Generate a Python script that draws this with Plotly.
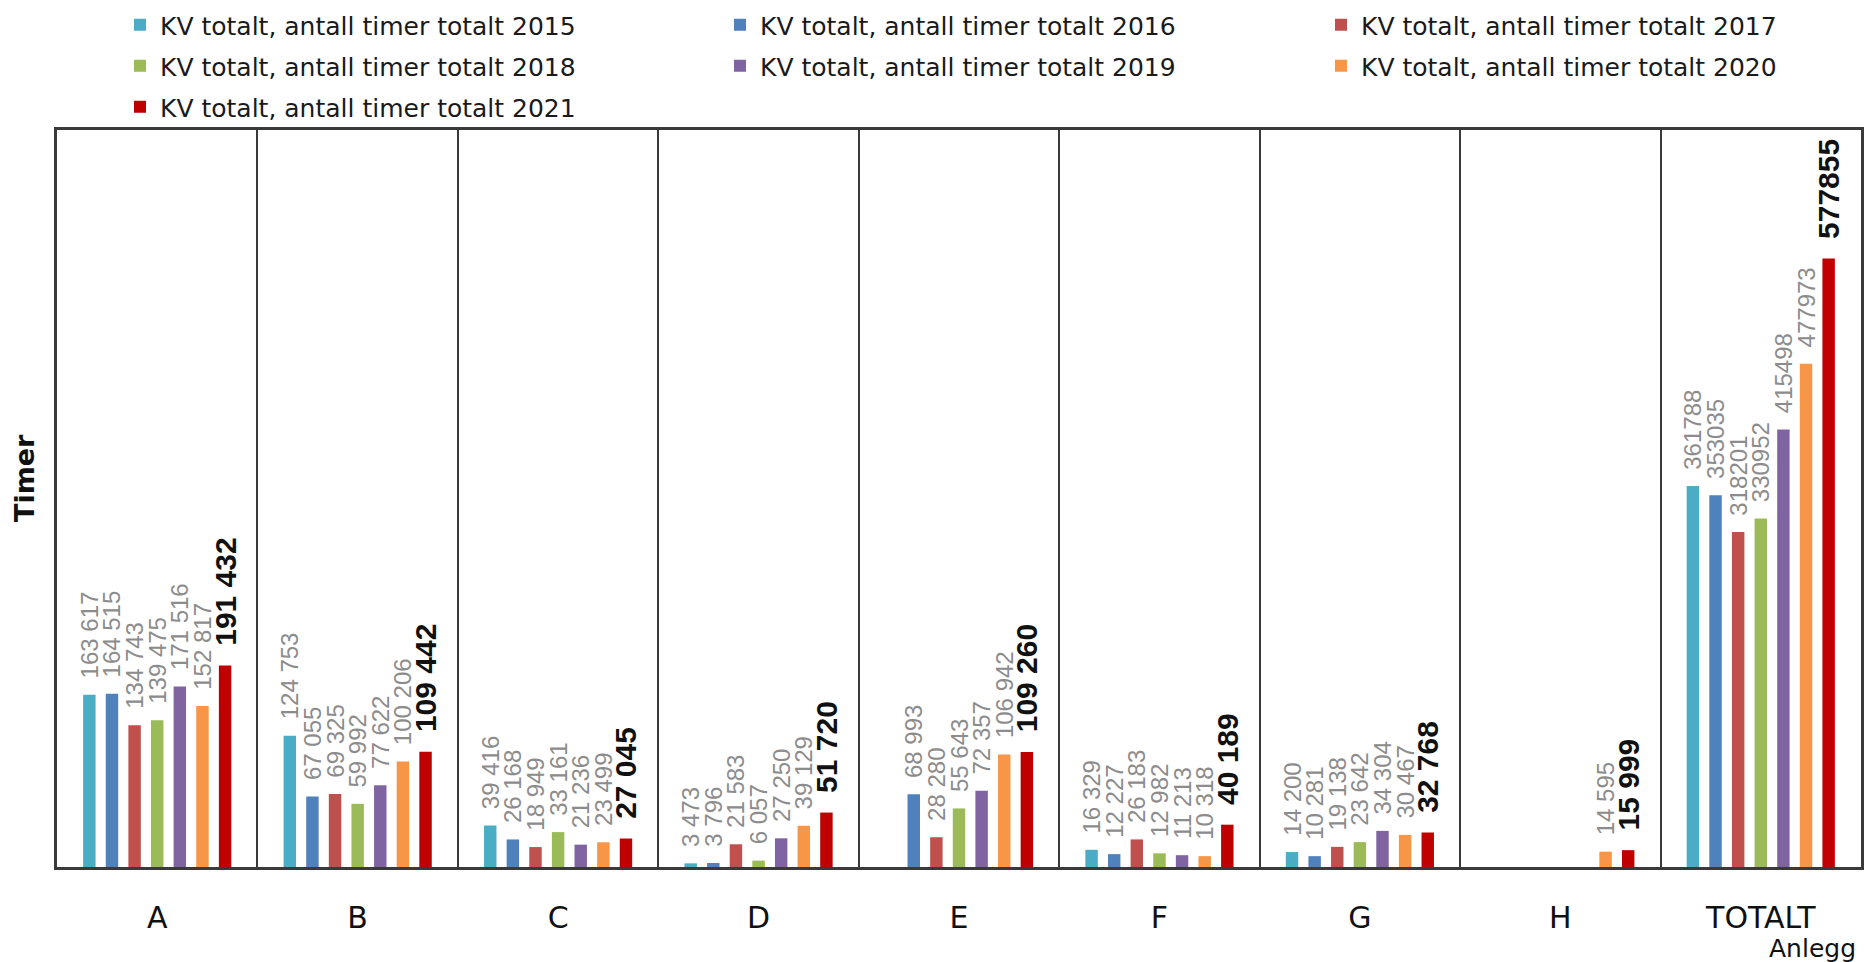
import plotly.graph_objects as go

categories = ["A", "B", "C", "D", "E", "F", "G", "H", "TOTALT"]
years = ["2015", "2016", "2017", "2018", "2019", "2020", "2021"]

v2015 = [163617, 124753, 39416, 3473, None, 16329, 14200, None, 361788]
v2016 = [164515, 67055, 26168, 3796, 68993, 12227, 10281, None, 353035]
v2017 = [134743, 69325, 18949, 21583, 28280, 26183, 19138, None, 318201]
v2018 = [139475, 59992, 33161, 6057, 55643, 12982, 23642, None, 330952]
v2019 = [171516, 77622, 21236, 27250, 72357, 11213, 34304, None, 415498]
v2020 = [152817, 100206, 23499, 39129, 106942, 10318, 30467, 14595, 477973]
v2021 = [191432, 109442, 27045, 51720, 109260, 40189, 32768, 15999, 577855]

series = [v2015, v2016, v2017, v2018, v2019, v2020, v2021]
colors = ["#4BACC6", "#4F81BD", "#C0504D", "#9BBB59", "#8064A2", "#F79646", "#C00000"]

# legend positions (container px): left of legend box, y centre of row
legend_pos = [(120, 25), (720, 25), (1321, 25), (120, 66), (720, 66), (1321, 66), (120, 107)]

W, H = 1865, 962
L, R, T, B = 57, 4, 130, 95
PW, PH = W - L - R, H - T - B

LABEL_FONT = "Liberation Sans, Arial, sans-serif"
TEXT_FONT = "DejaVu Sans, Verdana, sans-serif"
NBSP = "\u00a0"


def fmt(v, cat, pad):
    if v is None:
        return ""
    s = str(v) if cat == "TOTALT" else f"{v:,}".replace(",", " ")
    return NBSP * pad + s


fig = go.Figure()
for i, (yr, vals, col) in enumerate(zip(years, series, colors)):
    last = i == len(years) - 1
    lname = "legend" if i == 0 else f"legend{i + 1}"
    fig.add_trace(go.Bar(
        x=categories,
        y=vals,
        name=f"KV totalt, antall timer totalt {yr}",
        marker=dict(color=col, line=dict(width=0)),
        text=[fmt(v, c, 2) for v, c in zip(vals, categories)],
        textposition="outside",
        textangle=-90,
        constraintext="none",
        cliponaxis=False,
        textfont=dict(
            family=LABEL_FONT,
            size=30 if last else 24,
            color="#111111" if last else "#8c8c8c",
            weight="bold" if last else "normal",
        ),
        legend=lname,
    ))

layout_legends = {}
for i, (px, py) in enumerate(legend_pos):
    key = "legend" if i == 0 else f"legend{i + 1}"
    layout_legends[key] = dict(
        xref="container", yref="container",
        x=px / W, y=1 - py / H,
        xanchor="left", yanchor="middle",
        bgcolor="rgba(0,0,0,0)",
        font=dict(family=TEXT_FONT, size=25, color="#1a1a1a"),
        itemclick=False,
    )

fig.update_layout(
    width=W, height=H,
    margin=dict(l=L, r=R, t=T, b=B, autoexpand=False),
    plot_bgcolor="white",
    paper_bgcolor="white",
    barmode="group",
    bargap=0.21,
    bargroupgap=0.45,
    showlegend=True,
    **layout_legends,
)

fig.update_xaxes(
    type="category",
    tickson="boundaries",
    showgrid=True, gridcolor="#3a3a3a", gridwidth=2,
    showline=True, linecolor="#3a3a3a", linewidth=3, mirror=True,
    ticks="",
    tickangle=0,
    automargin=False,
    ticklabelstandoff=22,
    tickfont=dict(family=TEXT_FONT, size=30, color="#111111"),
)
fig.update_yaxes(
    range=[0, 700000],
    showgrid=False, zeroline=False,
    showticklabels=False, ticks="",
    automargin=False,
    showline=True, linecolor="#3a3a3a", linewidth=2.5, mirror=True,
)

fig.add_annotation(
    text="<b>Timer</b>", xref="paper", yref="paper",
    x=(25 - L) / PW, y=(H - B - 478) / PH, xanchor="center", yanchor="middle",
    textangle=-90, showarrow=False,
    font=dict(family=TEXT_FONT, size=27, color="#111111"),
)
fig.add_annotation(
    text="Anlegg", xref="paper", yref="paper",
    x=(1858 - L) / PW, y=(H - B - 948) / PH, xanchor="right", yanchor="middle",
    showarrow=False,
    font=dict(family=TEXT_FONT, size=25, color="#111111"),
)

fig.write_html(
    "out.html",
    config={"displayModeBar": False},
    post_script="document.body.style.margin='0px';",
)
